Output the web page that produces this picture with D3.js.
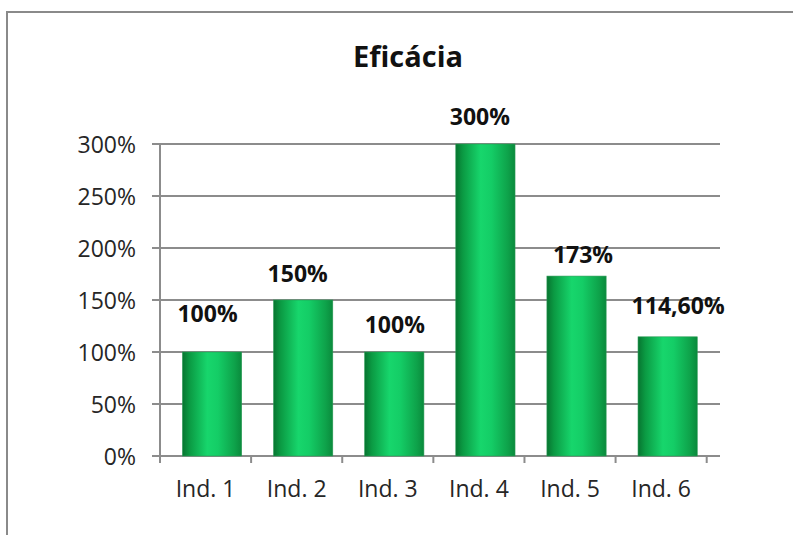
<!DOCTYPE html>
<html lang="pt">
<head>
<meta charset="UTF-8">
<title>Eficácia</title>
<script src="https://d3js.org/d3.v7.min.js"></script>
<style>
  body { margin: 0; background: #fff; }
  text { font-family: "Open Sans", sans-serif; }
</style>
</head>
<body>
<div id="grafico"></div>
<script>
// -- Dados --
const categorias = ["Ind. 1", "Ind. 2", "Ind. 3", "Ind. 4", "Ind. 5", "Ind. 6"];
const valores = [100, 150, 100, 300, 173, 114.6];
const rotulos = ["100%", "150%", "100%", "300%", "173%", "114,60%"];
const ticksY = [0, 50, 100, 150, 200, 250, 300];

// -- deslocamento manual dos rótulos (como no Excel) --
const rotuloDx = [2, 1, 7, 1, 13, 17];
const rotuloDy = [30, 18, 19, 19, 13, 23];

const width = 793, height = 535;
const esq = 160, dir = 706.7, topo = 144, base = 456;

const svg = d3.select("#grafico").append("svg")
    .attr("width", width)
    .attr("height", height);

// -- moldura --
svg.append("rect")
    .attr("x", 7).attr("y", 12)
    .attr("width", 820).attr("height", 560)
    .attr("fill", "none")
    .attr("stroke", "#8a8a8a")
    .attr("stroke-width", 2);

// -- gradiente das barras --
const grad = svg.append("defs").append("linearGradient")
    .attr("id", "verde")
    .attr("x1", 0).attr("x2", 1).attr("y1", 0).attr("y2", 0);
[["0%", "#077530"], ["12%", "#0b9a43"], ["42%", "#17d66c"], ["60%", "#14cd66"], ["88%", "#0ea24a"], ["100%", "#0a8a3c"]]
  .forEach(s => grad.append("stop").attr("offset", s[0]).attr("stop-color", s[1]));

// -- escalas --
const y = d3.scaleLinear().domain([0, 300]).range([base, topo]);
const x = d3.scaleBand().domain(categorias).range([esq, dir]);
const xBar = d3.scaleBand().domain(categorias).range([esq + 6.5, dir + 6.5])
    .paddingInner(0.35).paddingOuter(0.175);

// -- linhas de grade --
svg.append("g").selectAll("line")
    .data(ticksY)
    .enter().append("line")
    .attr("x1", esq - 8).attr("x2", 720)
    .attr("y1", d => y(d)).attr("y2", d => y(d))
    .attr("stroke", "#8c8c8c")
    .attr("stroke-width", 2);

// -- eixo Y --
const eixoY = svg.append("g")
    .attr("transform", `translate(${esq},0)`)
    .call(d3.axisLeft(y).tickValues(ticksY).tickSize(8).tickFormat(d => d + "%"));
eixoY.select(".domain").remove();
eixoY.selectAll("line").remove();
eixoY.selectAll("text")
    .attr("x", -24)
    .attr("dy", "0.35em")
    .attr("fill", "#262626")
    .style("font-size", "23px");
svg.append("line")
    .attr("x1", esq).attr("x2", esq)
    .attr("y1", topo).attr("y2", base + 7)
    .attr("stroke", "#8c8c8c").attr("stroke-width", 2);

// -- eixo X --
const eixoX = svg.append("g")
    .attr("transform", `translate(0,${base})`)
    .call(d3.axisBottom(x).tickSize(0));
eixoX.select(".domain").remove();
eixoX.selectAll("text")
    .attr("y", 33)
    .attr("dy", "0.35em")
    .attr("fill", "#262626")
    .style("font-size", "23px");
svg.append("g").selectAll("line")
    .data(categorias.concat(["fim"]))
    .enter().append("line")
    .attr("x1", (d, i) => esq + i * x.step())
    .attr("x2", (d, i) => esq + i * x.step())
    .attr("y1", base).attr("y2", base + 7)
    .attr("stroke", "#8c8c8c").attr("stroke-width", 2);

// -- barras --
svg.append("g").selectAll("rect")
    .data(valores)
    .enter().append("rect")
    .attr("x", (d, i) => xBar(categorias[i]))
    .attr("width", xBar.bandwidth())
    .attr("y", d => y(d))
    .attr("height", d => base - y(d))
    .attr("fill", "url(#verde)")
    .attr("stroke", "#2a9a55")
    .attr("stroke-width", 0.6);

// -- rótulos de dados --
svg.append("g").selectAll("text")
    .data(valores)
    .enter().append("text")
    .attr("x", (d, i) => x(categorias[i]) + x.bandwidth() / 2 + rotuloDx[i])
    .attr("y", (d, i) => y(d) - rotuloDy[i])
    .attr("text-anchor", "middle")
    .style("font-size", "23px")
    .style("font-weight", "bold")
    .attr("fill", "#111")
    .text((d, i) => rotulos[i]);

// -- título --
svg.append("text")
    .attr("x", 408).attr("y", 67)
    .attr("text-anchor", "middle")
    .style("font-size", "29px")
    .style("font-weight", "bold")
    .attr("fill", "#111")
    .text("Eficácia");
</script>
</body>
</html>
